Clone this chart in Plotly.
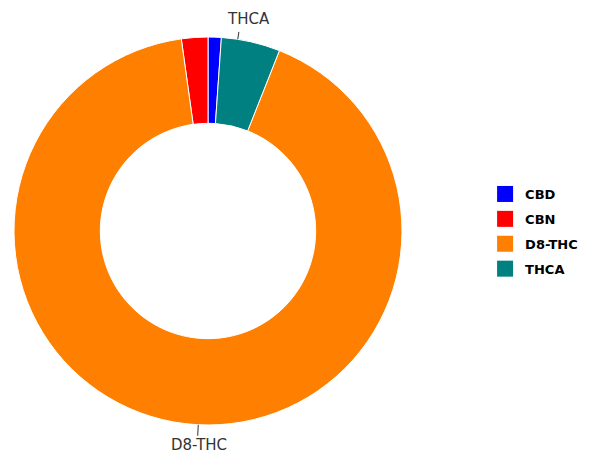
import math
import plotly.graph_objects as go

labels = ["CBD", "CBN", "D8-THC", "THCA"]
values = [1.1, 2.2, 91.8, 4.9]
colors = ["#0000FF", "#FF0000", "#FF8000", "#008080"]
shown_labels = ["D8-THC", "THCA"]

W, H = 589, 453
DOM_X = [6 / W, 394 / W]
DOM_Y = [36 / H, 424 / H]

fig = go.Figure()
fig.add_trace(go.Pie(
    labels=labels,
    values=values,
    textinfo="none",
    hole=0.555,
    sort=False,
    direction="counterclockwise",
    rotation=0,
    showlegend=False,
    domain=dict(x=DOM_X, y=DOM_Y),
    marker=dict(colors=colors, line=dict(color="white", width=1)),
))

# legend entries (square swatches matching the slices)
for lab, col in zip(labels, colors):
    fig.add_trace(go.Scatter(
        x=[None], y=[None], mode="markers", name=lab,
        legendgroup=lab,
        marker=dict(symbol="square", size=16, color=col),
    ))

# outside labels with short leader lines, placed from the slice mid-angles
cx = W * (DOM_X[0] + DOM_X[1]) / 2
cy = H * (DOM_Y[0] + DOM_Y[1]) / 2
R = min(W * (DOM_X[1] - DOM_X[0]), H * (DOM_Y[1] - DOM_Y[0])) / 2
total = sum(values)
label_style = {  # leader length (px), text offset (px, y up)
    "THCA": (7.5, 10.5, 20.5),
    "D8-THC": (11, 0.8, -20),
}
cum = 0.0
for lab, v in zip(labels, values):
    mid = (cum + v / 2) / total * 2 * math.pi  # counterclockwise from top
    cum += v
    if lab not in shown_labels:
        continue
    sx, sy = -math.sin(mid), math.cos(mid)  # unit vector, y up
    px, py = (cx + R * sx) / W, (cy + R * sy) / H
    length, tx, ty = label_style[lab]
    fig.add_shape(type="line", xref="paper", yref="paper",
                  xsizemode="pixel", ysizemode="pixel",
                  xanchor=px, yanchor=py,
                  x0=0, y0=0, x1=sx * length, y1=sy * length,
                  line=dict(color="#333333", width=1))
    fig.add_annotation(x=px, y=py, xref="paper", yref="paper",
                       text=lab, showarrow=False,
                       xanchor="center", yanchor="middle",
                       xshift=tx, yshift=ty,
                       font=dict(size=15, color="#333333", family="DejaVu Sans"))

fig.update_layout(
    width=W, height=H,
    font=dict(family="DejaVu Sans"),
    paper_bgcolor="white",
    plot_bgcolor="white",
    margin=dict(l=0, r=0, t=0, b=0, autoexpand=False),
    xaxis=dict(visible=False),
    yaxis=dict(visible=False),
    legend=dict(font=dict(size=13, color="black", weight="bold"),
                x=0.81, xanchor="left", y=0.5066, yanchor="middle",
                tracegroupgap=5, itemsizing="trace"),
)

fig.write_html("out.html")
